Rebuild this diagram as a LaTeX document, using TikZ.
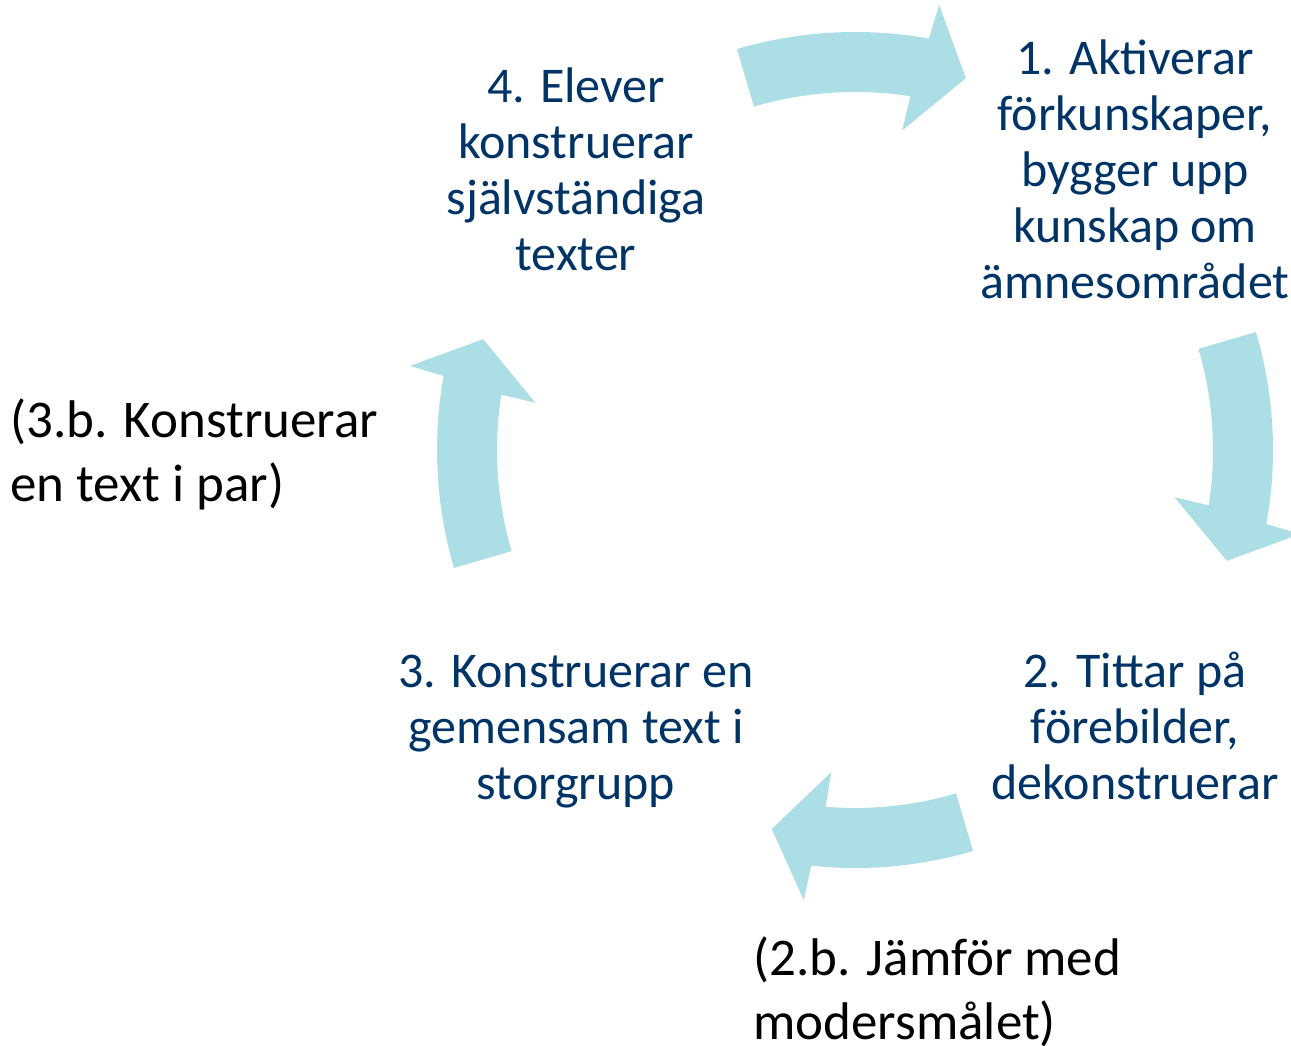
\documentclass[tikz,border=0pt]{standalone}
\usepackage{fontspec}
\setmainfont{Carlito}
\definecolor{stepblue}{RGB}{0,51,102}
\definecolor{arrowcyan}{RGB}{172,222,229}
\begin{document}
\begin{tikzpicture}[x=0.5pt,y=0.5pt,
	cyclearrow/.style={fill=arrowcyan},
	steptext/.style={text=stepblue, align=center, inner sep=0pt, anchor=base, font=\fontsize{25}{28}\selectfont},
	notetext/.style={text=black, align=left, inner sep=0pt, anchor=base west, font=\fontsize{26.5}{32}\selectfont}]
	
	\useasboundingbox (0,0) rectangle (1291,1045);
	
	% the four curved arrows of the cycle (\d: the lower one is a bit shorter)
	\foreach \k/\d in {0/0,1/0,2/4.2,3/0}
	  \fill[cyclearrow, shift={(855,595)}, rotate=-90*\k] (106.4:358) -- (106.4:418) arc[start angle=106.4, end angle=79.8+\d, radius=418] -- (79.3+\d:453) -- (73.4+\d:388) -- (81.6+\d:323) -- (81.1+\d:358) arc[start angle=81.1+\d, end angle=106.4, radius=358] -- cycle;
	
	% steps (anchored at the baseline of the last line)
	\node[steptext] (step1) at (1135,746) {1. Aktiverar\\förkunskaper,\\bygger upp\\kunskap om\\ämnesområdet};
	\node[steptext] (step2) at (1135,245) {2. Tittar på\\förebilder,\\dekonstruerar};
	\node[steptext] (step3) at (576,245) {3. Konstruerar en\\gemensam text i\\storgrupp};
	\node[steptext] (step4) at (576,774) {4. Elever\\konstruerar\\självständiga\\texter};
	
	% side notes
	\node[notetext] (note3b) at (10,543) {(3.b. Konstruerar\\en text i par)};
	\node[notetext] (note2b) at (753,6) {(2.b. Jämför med\\modersmålet)};
	
\end{tikzpicture}
\end{document}
